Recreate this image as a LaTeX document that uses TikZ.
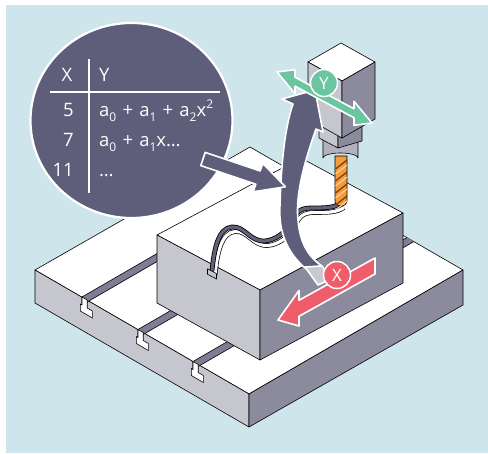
\documentclass[tikz,border=0pt]{standalone}
\usepackage{fontspec}
\setmainfont{Open Sans}
\definecolor{bgblue}{HTML}{CFE5EC}
\definecolor{slate}{HTML}{5E5D7A}
\definecolor{facelight}{HTML}{C6C6CF}
\definecolor{facedark}{HTML}{8C8B9E}
\definecolor{slotgrey}{HTML}{7E7D93}
\definecolor{cablegrey}{HTML}{62617A}
\definecolor{chuckgrey}{HTML}{B2B2BF}
\definecolor{mintgreen}{HTML}{6CC5A1}
\definecolor{coral}{HTML}{EF5D6B}
\definecolor{drillorange}{HTML}{F49B3A}
\definecolor{drillbrown}{HTML}{7A4212}
\definecolor{ribbonback}{HTML}{C9C9D3}
\newcommand\lowdigit[1]{\raisebox{-0.45ex}{\fontsize{12}{12}\selectfont#1}}
\newcommand\highdigit[1]{\raisebox{0.85ex}{\fontsize{12}{12}\selectfont#1}}
\newcommand\plusop{\hspace{6.2pt}+\hspace{6.2pt}}
\begin{document}
\begin{tikzpicture}[x=1pt,y=-1pt,
  edge/.style={draw=black,line width=0.6pt,line join=round},
  outlined/.style={draw=white,line width=1.6pt,line join=round},
  tabletext/.style={text=white,inner sep=0pt,font=\fontsize{18.5}{20}\selectfont},
  axisdot/.style={circle,draw=white,line width=1.5pt,minimum size=27pt,inner sep=0pt,
    text=white,font=\fontsize{17}{17}\selectfont}]
% canvas
\useasboundingbox (0,0) rectangle (488,454);
\fill[white] (0,0) rectangle (488,454);
\fill[bgblue] (6,5) rectangle (487.5,453.5);

% ---- machine table (base plate) ----
\path[fill=white,edge] (35,270) -- (250,147) -- (463,270) -- (249,394) -- cycle;
\path[fill=facelight,edge] (35,270) -- (249,394) -- (249,427) -- (35,303) -- cycle;
\path[fill=facedark,edge] (249,394) -- (463,270) -- (463,305) -- (249,427) -- cycle;

% T-slots running across the table
\begin{scope}
  \clip (35,270) -- (250,147) -- (463,270) -- (463,460) -- (35,460) -- cycle;
  \foreach \px/\py in {82/297,138/329.5,193/361.5}{
    \path[fill=slotgrey,edge] (\px,\py) -- ++(240,-139) -- ++(0,8) -- ++(-240,139) -- cycle;
  }
\end{scope}
\foreach \px/\py in {82/297,138/329.5,193/361.5}{
  \begin{scope}[shift={(\px,\py)}]
    \path[fill=white,edge] (0,0) -- (0,8) -- (-1.7,7) -- (-1.7,14) -- (10.4,21) -- (10.4,14)
      -- (5.2,11) -- (5.2,3) -- cycle;
  \end{scope}
}

% ---- workpiece block ----
\path[fill=white,edge] (157,235) -- (301,158) -- (403,213) -- (260,290) -- cycle;
\path[fill=facelight,edge] (157,235) -- (260,290) -- (260,360) -- (157,303) -- cycle;
\path[fill=facedark,edge] (260,290) -- (403,213) -- (403,283) -- (260,360) -- cycle;

% cable lying on the block
\def\cablepath{(212,271) .. controls (214,250) and (218,228) .. (232,227)
  .. controls (245,226) and (250,242) .. (265,241)
  .. controls (276,240) and (286,232) .. (292,222)
  .. controls (296,212) and (300,208) .. (312,208)
  .. controls (325,208) and (334,208) .. (341,203)}
\begin{scope}[shift={(3,4.5)}]
  \draw[black,line width=4.6pt] \cablepath;
  \draw[white,line width=3.2pt] \cablepath;
\end{scope}
\draw[black,line width=4.8pt] \cablepath;
\draw[cablegrey,line width=3.2pt] \cablepath;
\path[fill=facelight,edge] (207.5,268.8) -- (216.5,273.6) -- (216.5,279) -- (207.5,274.2) -- cycle;

% ---- spindle ----
% drill bit
\path[fill=drillorange,edge] (335,156) -- (335,201) .. controls (336,208) and (346,208) .. (347,201) -- (347,156) -- cycle;
\foreach \yy in {160,172,184,196}{
  \draw[drillbrown,line width=1.3pt] (347,\yy) -- (335.5,\yy+9);
  \draw[white!60!drillorange,line width=1pt] (347,\yy+5) -- (335.5,\yy+14);
}
% chuck
\path[fill=chuckgrey,edge] (323,135) -- (323,158) arc[start angle=180,end angle=360,x radius=17.5,y radius=5] -- (358,135) -- cycle;
% nut
\path[fill=facelight,edge] (319,120) -- (338,130) -- (338,148) -- (319,138) -- cycle;
\path[fill=facedark,edge] (338,130) -- (362,118) -- (362,141) -- (338,148) -- cycle;
% head
\path[fill=white,edge] (341,43) -- (375,62) -- (342,81) -- (308,62) -- cycle;
\path[fill=facelight,edge] (308,62) -- (342,81) -- (342,138) -- (308,119) -- cycle;
\path[fill=facedark,edge] (342,81) -- (375,62) -- (375,119) -- (342,138) -- cycle;

% ---- curved arrow from X to Y ----
\path[fill=slate,outlined] (282,99) -- (315,90) -- (323,132) -- (316,129)
  .. controls (305,160) and (295,195) .. (298,220)
  .. controls (300,245) and (310,258) .. (322,266)
  -- (305,268)
  .. controls (290,255) and (278,235) .. (280,205)
  .. controls (281,170) and (284,130) .. (293,104) -- cycle;
\path[fill=ribbonback,outlined] (305,267) -- (322,266) -- (331,279) -- (318,285) -- cycle;

% ---- value table ----
\path[fill=slate,outlined,line width=2.2pt] (131.5,120.5) ellipse [x radius=101,y radius=97.5];
\draw[white,line width=1.1pt] (50,92) -- (220,92);
\draw[white,line width=1.1pt] (89,59) -- (89,193);
\node[tabletext,anchor=base] (headx) at (67,82) {X};
\node[tabletext,anchor=base west] (heady) at (99,82) {Y};
\node[tabletext,anchor=base east] (rowax) at (74,117) {5};
\node[tabletext,anchor=base west] (roway) at (99,117) {a\lowdigit{0}\plusop a\lowdigit{1}\plusop a\lowdigit{2}x\highdigit{2}};
\node[tabletext,anchor=base east] (rowbx) at (74,147) {7};
\node[tabletext,anchor=base west] (rowby) at (99,147) {a\lowdigit{0}\plusop a\lowdigit{1}x\ldots};
\node[tabletext,anchor=base east] (rowcx) at (74,177) {11};
\node[tabletext,anchor=base west] (rowcy) at (99,177) {\ldots};

% straight arrow from the table to the curve
\path[fill=slate,outlined] (205.2,152.4) -- (260.2,171) -- (262.8,163.4) -- (285.4,186.8)
  -- (253.2,191.8) -- (255.8,184.2) -- (200.8,165.6) -- cycle;

% ---- Y axis ----
\path[fill=mintgreen,outlined] (277,72) -- (295,69.7) -- (295,77.2) -- (354,108.8) -- (354,101.3)
  -- (372,123) -- (354,125.3) -- (354,117.8) -- (295,86.2) -- (295,93.7) -- cycle;
\node[axisdot,fill=mintgreen] (ydot) at (324,83) {Y};

% ---- X axis ----
\path[fill=coral,outlined] (375,258) -- (375,274) -- (299,316.3) -- (299,326) -- (278,320)
  -- (299,290.5) -- (299,300.3) -- cycle;
\node[axisdot,fill=coral] (xdot) at (337,275) {X};
\end{tikzpicture}
\end{document}
